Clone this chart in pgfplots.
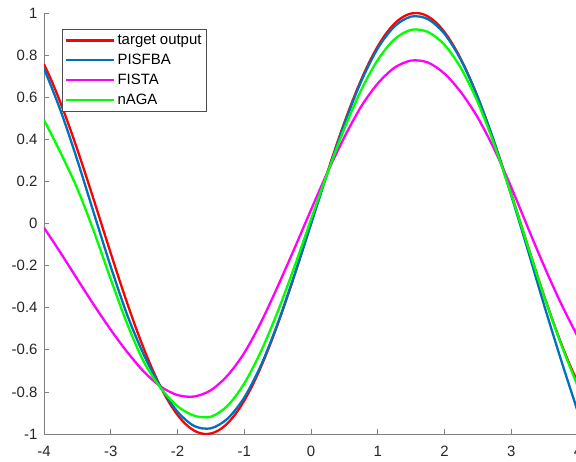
\documentclass[border=0pt]{standalone}
\usepackage{fontspec}
\setmainfont{Liberation Sans}
\usepackage{pgfplots}
\pgfplotsset{compat=1.18}
\definecolor{mblue}{RGB}{0,114,189}
\definecolor{mmag}{RGB}{255,0,255}
\definecolor{mgreen}{RGB}{0,255,0}
\definecolor{mred}{RGB}{255,0,0}
\definecolor{axgray}{RGB}{128,128,128}
\begin{document}
\begin{tikzpicture}
\begin{axis}[
  scale only axis, width=534bp, height=421bp,
  xmin=-4, xmax=4, ymin=-1, ymax=1,
  axis x line*=bottom, axis y line*=left,
  axis line style={axgray, line width=0.6bp},
  xtick={-4,-3,-2,-1,0,1,2,3,4},
  ytick={-1,-0.8,-0.6,-0.4,-0.2,0,0.2,0.4,0.6,0.8,1},
  major tick style={axgray, line width=0.6bp},
  major tick length=5bp,
  tick align=inside,
  ticklabel style={font=\fontsize{15}{18}\selectfont, text=black!85},
  /pgf/number format/assume math mode=true,
  /pgf/number format/fixed,
  xticklabel style={yshift=-9bp},
  yticklabel style={xshift=-3bp},
  legend style={at={(0.0337,0.962)}, anchor=north west,
    font=\fontsize{15}{18}\selectfont, draw=black!70, line width=0.6bp,
    inner xsep=3bp, inner ysep=3.5bp, row sep=4bp},
  legend cell align=left,
  legend image code/.code={\draw[#1, line width=2.3bp] (0bp,0bp) -- (48bp,0bp);},
  every axis plot/.append style={line width=2.3bp, smooth},
]
\addplot[mred] coordinates {
(-4.0,0.7568) (-3.9,0.6878) (-3.8,0.6119) (-3.7,0.5298) (-3.6,0.4425)
(-3.5,0.3508) (-3.4,0.2555) (-3.3,0.1577) (-3.2,0.0584) (-3.1,-0.0416)
(-3.0,-0.1411) (-2.9,-0.2392) (-2.8,-0.3350) (-2.7,-0.4274) (-2.6,-0.5155)
(-2.5,-0.5985) (-2.4,-0.6755) (-2.3,-0.7457) (-2.2,-0.8085) (-2.1,-0.8632)
(-2.0,-0.9093) (-1.9,-0.9463) (-1.8,-0.9738) (-1.7,-0.9917) (-1.6,-0.9996)
(-1.5,-0.9975) (-1.4,-0.9854) (-1.3,-0.9636) (-1.2,-0.9320) (-1.1,-0.8912)
(-1.0,-0.8415) (-0.9,-0.7833) (-0.8,-0.7174) (-0.7,-0.6442) (-0.6,-0.5646)
(-0.5,-0.4794) (-0.4,-0.3894) (-0.3,-0.2955) (-0.2,-0.1987) (-0.1,-0.0998)
(0.0,0)
(0.1,0.0998) (0.2,0.1987) (0.3,0.2955) (0.4,0.3894) (0.5,0.4794)
(0.6,0.5646) (0.7,0.6442) (0.8,0.7174) (0.9,0.7833) (1.0,0.8415)
(1.1,0.8912) (1.2,0.9320) (1.3,0.9636) (1.4,0.9854) (1.5,0.9975)
(1.6,0.9996) (1.7,0.9917) (1.8,0.9738) (1.9,0.9463) (2.0,0.9093)
(2.1,0.8632) (2.2,0.8085) (2.3,0.7457) (2.4,0.6755) (2.5,0.5985)
(2.6,0.5155) (2.7,0.4274) (2.8,0.3350) (2.9,0.2392) (3.0,0.1411)
(3.1,0.0416) (3.2,-0.0584) (3.3,-0.1577) (3.4,-0.2555) (3.5,-0.3508)
(3.6,-0.4425) (3.7,-0.5298) (3.8,-0.6119) (3.9,-0.6878) (4.0,-0.7568)};
\addlegendentry{target output}
\addplot[mblue] coordinates {
(-4.00,0.737) (-3.75,0.535) (-3.50,0.300) (-3.25,0.046) (-3.00,-0.205)
(-2.75,-0.437) (-2.50,-0.627) (-2.25,-0.778) (-2.00,-0.894) (-1.75,-0.962)
(-1.50,-0.973) (-1.25,-0.927) (-1.00,-0.827) (-0.75,-0.674) (-0.50,-0.476)
(-0.25,-0.247) (0.00,-0.002) (0.25,0.243) (0.50,0.473) (0.75,0.674)
(1.00,0.832) (1.25,0.936) (1.50,0.983) (1.75,0.971) (2.00,0.901)
(2.25,0.775) (2.50,0.5985) (2.75,0.3817) (3.00,0.133) (3.25,-0.128)
(3.50,-0.396) (3.75,-0.652) (4.00,-0.897)};
\addlegendentry{PISFBA}
\addplot[mmag] coordinates {
(-4.00,-0.020) (-3.75,-0.140) (-3.50,-0.265) (-3.25,-0.388) (-3.00,-0.505)
(-2.75,-0.612) (-2.50,-0.705) (-2.25,-0.775) (-2.00,-0.815) (-1.75,-0.822)
(-1.50,-0.792) (-1.25,-0.722) (-1.00,-0.615) (-0.75,-0.470) (-0.50,-0.300)
(-0.25,-0.120) (0.00,0.065) (0.25,0.245) (0.50,0.410) (0.75,0.555)
(1.00,0.665) (1.25,0.740) (1.50,0.774) (1.75,0.765) (2.00,0.712)
(2.25,0.622) (2.50,0.502) (2.75,0.350) (3.00,0.172) (3.25,-0.020)
(3.50,-0.208) (3.75,-0.383) (4.00,-0.540)};
\addlegendentry{FISTA}
\addplot[mgreen] coordinates {
(-4.00,0.492) (-3.75,0.335) (-3.50,0.165) (-3.25,-0.040) (-3.00,-0.265)
(-2.75,-0.480) (-2.50,-0.660) (-2.25,-0.782) (-2.00,-0.868) (-1.75,-0.913)
(-1.50,-0.918) (-1.25,-0.866) (-1.00,-0.760) (-0.75,-0.608) (-0.50,-0.420)
(-0.25,-0.207) (0.00,0.020) (0.25,0.243) (0.50,0.451) (0.75,0.633)
(1.00,0.777) (1.25,0.875) (1.50,0.920) (1.75,0.910) (2.00,0.849)
(2.25,0.736) (2.50,0.575) (2.75,0.371) (3.00,0.138) (3.25,-0.110)
(3.50,-0.353) (3.75,-0.576) (4.00,-0.776)};
\addlegendentry{nAGA}
\end{axis}
\pgfresetboundingbox
\path[use as bounding box] ([xshift=-44bp,yshift=-28bp]current axis.south west) rectangle ([xshift=-2bp,yshift=13bp]current axis.north east);
\end{tikzpicture}
\end{document}
